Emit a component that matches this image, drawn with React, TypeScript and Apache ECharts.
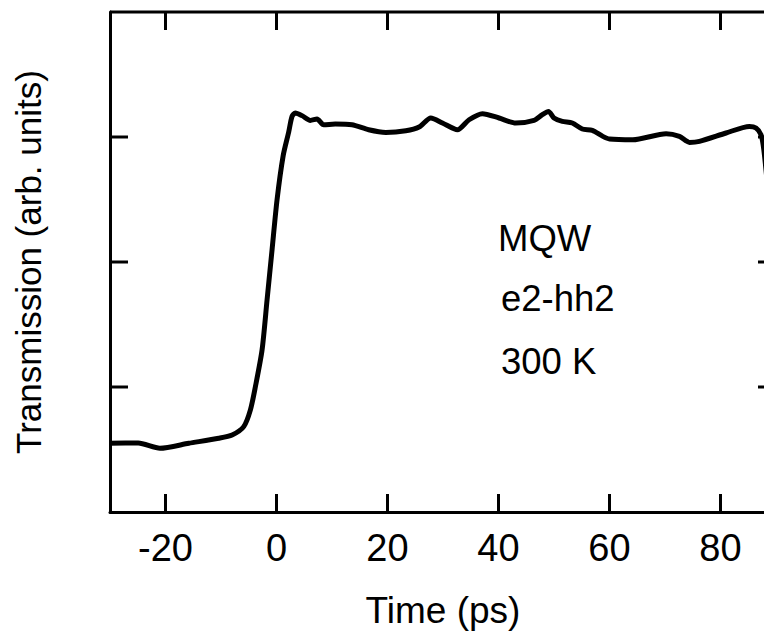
import React, { useEffect, useRef } from "react";
import * as echarts from "echarts";

// Time axis (ps) and transmission (arb. units)
const timePs = [
  -30, -24.9, -21, -15.8, -10.4, -8.0, -5.9, -4.7, -3.8, -2.6, -1.7, -0.8, 0.1, 1.2, 2.2, 2.8,
  3.4, 4.6, 6.1, 7.3, 8.5, 10.6, 13.6, 16.6, 19.7, 23.3, 25.7, 27.8, 29.9, 32.6, 34.7, 37.1, 40.1,
  43.1, 46.4, 47.9, 49.0, 50.0, 51.5, 53.3, 55.1, 56.9, 58.8, 60.0, 64.2, 70.2, 72.6, 74.4, 76.2,
  81.0, 85.2, 86.4, 87.3, 87.8, 88.5,
];
const transmission = [
  0.55, 0.552, 0.51, 0.55, 0.59, 0.616, 0.683, 0.817, 1.003, 1.297, 1.697, 2.098, 2.498,
  2.85, 3.04, 3.165, 3.192, 3.171, 3.133, 3.144, 3.098, 3.104, 3.098, 3.058, 3.037, 3.05, 3.08,
  3.152, 3.112, 3.058, 3.138, 3.187, 3.152, 3.112, 3.133, 3.179, 3.205, 3.152, 3.125, 3.112, 3.064,
  3.053, 3.005, 2.984, 2.978, 3.026, 3.005, 2.957, 2.965, 3.032, 3.085, 3.072, 3.018, 2.9, 2.6,
];
const X_MIN = -30;
const X_MAX = 90;
const Y_MIN = 0;
const Y_MAX = 4;
const xTickValues = [-20, 0, 20, 40, 60, 80];
const yTickValues = [1, 2, 3];
const annotations = ["MQW", "e2-hh2", "300 K"];
const xTitle = "Time (ps)";
const yTitle = "Transmission (arb. units)";

const FONT = "'Liberation Sans', Arial, Helvetica, sans-serif";
const TICK_LEN = 18;

export default function App() {
  const ref = useRef<HTMLDivElement>(null);
  useEffect(() => {
    document.documentElement.style.overflow = "hidden";
    document.body.style.overflow = "hidden";
    const chart = echarts.init(ref.current!, null, { renderer: "svg" });
    chart.setOption({
      animation: false,
      backgroundColor: "#fff",
      grid: { left: 110, top: 12, right: 24, bottom: 131 },
      xAxis: {
        type: "value",
        min: X_MIN,
        max: X_MAX,
        position: "bottom",
        axisLine: { show: true, onZero: false, lineStyle: { color: "#000", width: 3 } },
        axisTick: { show: false },
        splitLine: { show: false },
        name: xTitle,
        nameLocation: "middle",
        nameGap: 80,
        nameTextStyle: { fontSize: 37, color: "#000", fontFamily: FONT },
        axisLabel: {
          show: true,
          customValues: xTickValues,
          fontSize: 38,
          color: "#000",
          fontFamily: FONT,
          margin: 17,
        },
      },
      yAxis: {
        type: "value",
        min: Y_MIN,
        max: Y_MAX,
        position: "left",
        axisLine: { show: true, onZero: false, lineStyle: { color: "#000", width: 3 } },
        axisTick: { show: false },
        splitLine: { show: false },
        axisLabel: { show: false },
        name: yTitle,
        nameLocation: "middle",
        nameRotate: 90,
        nameGap: 64,
        nameTextStyle: { fontSize: 35, color: "#000", fontFamily: FONT },
      },
      series: [
        {
          type: "line",
          data: timePs.map((t, i) => [t, transmission[i]]),
          showSymbol: false,
          smooth: 0.25,
          lineStyle: { color: "#000", width: 5 },
        },
      ],
    });

    // Frame and inward ticks, positioned through the chart's own axis scales
    const toPx = (x: number, y: number) =>
      chart.convertToPixel({ xAxisIndex: 0, yAxisIndex: 0 }, [x, y]) as number[];
    const seg = (a: number[], b: number[]) => ({
      type: "line",
      z: 100,
      silent: true,
      shape: { x1: a[0], y1: a[1], x2: b[0], y2: b[1] },
      style: { stroke: "#000", lineWidth: 3 },
    });
    const lines: any[] = [];
    const tl = toPx(X_MIN, Y_MAX);
    const tr = toPx(X_MAX, Y_MAX);
    const br = toPx(X_MAX, Y_MIN);
    if (tl && tr && br) {
      lines.push(seg(tl, tr));
      lines.push(seg(tr, br));
      xTickValues.forEach((v) => {
        const b = toPx(v, Y_MIN);
        const t = toPx(v, Y_MAX);
        lines.push(seg(b, [b[0], b[1] - TICK_LEN]));
        lines.push(seg(t, [t[0], t[1] + TICK_LEN]));
      });
      yTickValues.forEach((v) => {
        const l = toPx(X_MIN, v);
        const r = toPx(X_MAX, v);
        lines.push(seg(l, [l[0] + TICK_LEN, l[1]]));
        lines.push(seg(r, [r[0] - TICK_LEN, r[1]]));
      });
    }
    const textStyle = { fontSize: 36.5, fill: "#000", fontFamily: FONT, verticalAlign: "middle" };
    chart.setOption({
      graphic: [
        { type: "text", x: 498, y: 238, style: { ...textStyle, text: annotations[0] } },
        { type: "text", x: 501, y: 298, style: { ...textStyle, text: annotations[1] } },
        { type: "text", x: 501, y: 361, style: { ...textStyle, text: annotations[2] } },
        ...lines,
      ],
    });
    return () => chart.dispose();
  }, []);
  return (
    <div
      ref={ref}
      style={{ position: "fixed", left: 0, top: 0, width: 800, height: 643 }}
    />
  );
}
